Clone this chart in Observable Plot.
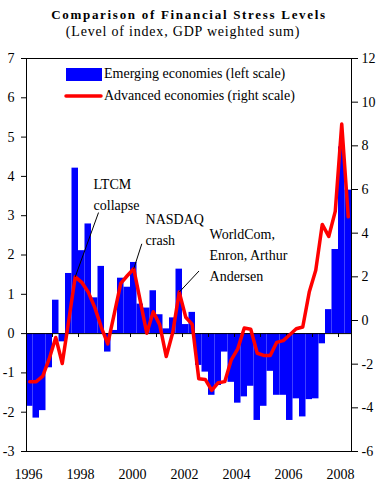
<!DOCTYPE html>
<html>
<head>
<meta charset="utf-8">
<script src="https://cdn.jsdelivr.net/npm/d3@7"></script>
<script src="https://cdn.jsdelivr.net/npm/@observablehq/plot@0.6"></script>
<style>
  body { margin: 0; background: white; font-family: "Liberation Serif", "Times New Roman", serif; }
  #wrap { position: relative; width: 378px; height: 497px; }
  #head { position: relative; height: 44px; }
  .t { position: absolute; left: 0; width: 378px; text-align: center; line-height: 1; color: black; white-space: nowrap; }
  #title { top: 8px; font-size: 13px; font-weight: bold; letter-spacing: 1.7px; left: 0px; }
  #sub { top: 25px; font-size: 14px; letter-spacing: 0.8px; left: -6px; }
</style>
</head>
<body>
<div id="wrap">
  <div id="head">
    <div class="t" id="title">Comparison of Financial Stress Levels</div>
    <div class="t" id="sub">(Level of index, GDP weighted sum)</div>
  </div>
  <div id="chart"></div>
</div>
<script>
// Quarterly data, 1996Q1 .. 2008Q2
const startYear = 1996;
const emerging = [
  -1.85, -2.15, -1.96, -0.87,
   0.85, -0.21,  1.53,  4.21,
   2.11,  2.79,  0.91,  1.71,
  -0.47,  0.08,  1.41,  1.18,
   1.81,  0.75,  0.65,  1.09,
   0.48,  0.12,  0.40,  1.64,
   0.23,  0.54, -0.81, -0.98,
  -1.57, -1.32, -0.47, -1.24,
  -1.77, -1.61, -1.34, -2.21,
  -1.85, -0.96, -1.57, -1.57,
  -2.21, -1.66, -2.12, -1.68,
  -1.66, -0.26,  0.61,  2.14,
   4.75,  3.65
];
const advanced = [
  -2.8, -2.8, -2.55, -1.75,
  -0.78, -1.97, 0.0, 2.0,
   1.75, 1.3, 0.6, -0.3,
  -1.07, 0.3, 1.7, 2.05,
   2.37, 0.9, -0.58, 0.4,
  -0.2, -1.65, -0.55, 1.3,
   0.15, -0.18, -2.67, -2.7,
  -3.2, -2.85, -2.8, -1.8,
  -1.3, -0.34, -0.4, -1.5,
  -1.6, -1.6, -1.0, -0.92,
  -0.65, -0.38, -0.3, 1.3,
   2.3, 4.4, 3.85, 5.0,
   9.0, 4.75
];
const leftTicks = [-3, -2, -1, 0, 1, 2, 3, 4, 5, 6, 7];
const rightTicks = [-6, -4, -2, 0, 2, 4, 6, 8, 10, 12];
const yearLabels = [1996, 1998, 2000, 2002, 2004, 2006, 2008];
const yearTicks = [1997, 1998, 1999, 2000, 2001, 2002, 2003, 2004, 2005, 2006, 2007, 2008];
const seriesNames = ["Emerging economies (left scale)", "Advanced economies (right scale)"];
const annotationLabels = ["LTCM\ncollapse", "NASDAQ\ncrash", "WorldCom,\nEnron, Arthur\nAndersen"];
const annotationQuarter = [7, 16, 23];
const annotationTextPos = [[1998.58, 4.04], [2000.58, 3.16], [2003.04, 2.77]];
const annotationLeaderStart = [[1998.77, 3.08], [2000.435, 2.285], [2002.635, 1.593]];

// right scale (-6..12) mapped onto left scale (-3..7)
const toLeft = r => (r + 6) * (10 / 18) - 3;
const fromLeft = l => (l + 3) * 1.8 - 6;

const bars = emerging.map((v, i) => ({x1: startYear + i / 4, x2: startYear + (i + 1) / 4, v}));
const line = advanced.map((v, i) => ({x: startYear + (i + 0.5) / 4, v: toLeft(v)}));
const notes = annotationLabels.map((label, k) => ({
  label,
  tx: annotationTextPos[k][0], ty: annotationTextPos[k][1],
  lx1: annotationLeaderStart[k][0], ly1: annotationLeaderStart[k][1],
  lx2: line[annotationQuarter[k]].x, ly2: line[annotationQuarter[k]].v
}));

const font = "'Liberation Serif', 'Times New Roman', serif";
const chart = Plot.plot({
  width: 378,
  height: 453,
  marginTop: 14,
  marginBottom: 46,
  marginLeft: 26,
  marginRight: 27,
  style: {fontFamily: font, fontSize: "14px", color: "black", background: "white", overflow: "visible"},
  x: {domain: [1996, 2008.5], nice: false, axis: null},
  y: {domain: [-3, 7], nice: false, axis: null},
  marks: [
    Plot.rectY(bars, {x1: "x1", x2: "x2", y1: 0, y2: "v", fill: "#0000FF", inset: 0}),
    Plot.ruleY([0], {stroke: "black", strokeWidth: 1}),
    Plot.ruleX(yearTicks, {x: d => d, y1: 0, y2: -0.1, stroke: "black"}),
    Plot.line(line, {x: "x", y: "v", stroke: "#FF0000", strokeWidth: 3.5, strokeLinejoin: "round", strokeLinecap: "round"}),
    Plot.link(notes, {x1: "lx1", y1: "ly1", x2: "lx2", y2: "ly2", stroke: "black", strokeWidth: 1}),
    Plot.text(notes, {x: "tx", y: "ty", text: "label", textAnchor: "start", lineAnchor: "top", lineHeight: 1.47, fontSize: 14, fill: "black"}),
    Plot.frame({stroke: "black"}),
    Plot.axisY(leftTicks, {anchor: "left", tickSize: 5, tickPadding: 7, tickFormat: d => String(d), label: null, fontSize: 14}),
    Plot.axisY(rightTicks.map(toLeft), {anchor: "right", tickSize: 6, tickPadding: 4, tickFormat: d => String(Math.round(fromLeft(d))), label: null, fontSize: 14}),
    Plot.axisX(yearLabels, {anchor: "bottom", tickSize: 0, tickPadding: 18, tickFormat: d => String(d), dx: 2, label: null, fontSize: 14})
  ]
});
document.getElementById("chart").appendChild(chart);

// Legend inside the plot area
const svg = d3.select(chart);
const lg = svg.append("g").attr("font-family", font).attr("font-size", 14).attr("fill", "black").attr("text-anchor", "start");
lg.append("rect").attr("x", 66).attr("y", 24).attr("width", 36).attr("height", 13).attr("fill", "#0000FF");
lg.append("text").attr("x", 104).attr("y", 34).attr("text-anchor", "start").text(seriesNames[0]);
lg.append("line").attr("x1", 66).attr("x2", 101).attr("y1", 52).attr("y2", 52)
  .attr("stroke", "#FF0000").attr("stroke-width", 3.5).attr("stroke-linecap", "round");
lg.append("text").attr("x", 104).attr("y", 56).attr("text-anchor", "start").text(seriesNames[1]);
</script>
</body>
</html>
